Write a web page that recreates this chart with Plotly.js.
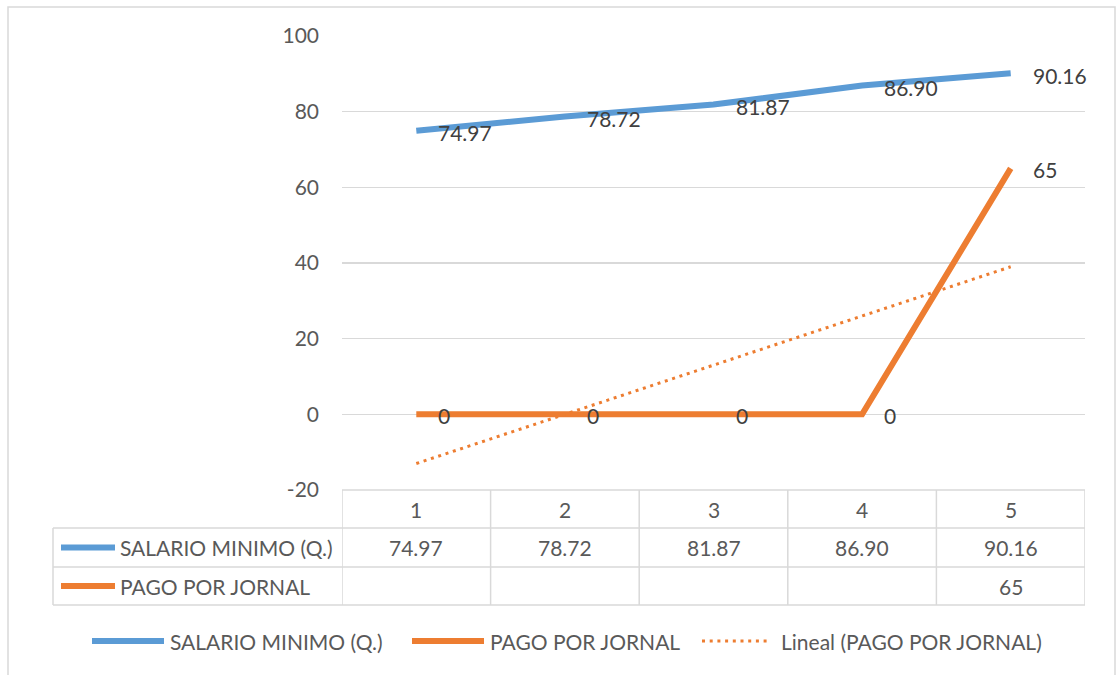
<!DOCTYPE html>
<html>
<head>
<meta charset="utf-8">
<script src="https://cdn.plot.ly/plotly-3.0.1.min.js"></script>
<style>
  html, body { margin: 0; padding: 0; background: #fff; }
  #chart { width: 1116px; height: 675px; }
</style>
</head>
<body>
<div id="chart"></div>
<script>
// ---- data ----
const categories = [1, 2, 3, 4, 5];
const salarioName = "SALARIO MINIMO (Q.)";
const salario = [74.97, 78.72, 81.87, 86.90, 90.16];
const pagoName = "PAGO POR JORNAL";
const pago = [null, null, null, null, 65];       // blanks in the table, drawn as 0
const trendName = "Lineal (PAGO POR JORNAL)";
const trendX = [1, 5];
const trendY = [-13, 39];
const yTicks = [-20, 0, 20, 40, 60, 80, 100];

// ---- styling ----
const BLUE = "#5B9BD5";
const ORANGE = "#ED7D31";
const GRID = "#d9d9d9";
const TXT = "#595959";
const LBL = "#404040";
const FONT = "Lato, 'Open Sans', sans-serif";
const FS = 21;

const W = 1116, H = 675;
const L = 342, R = 1085, T = 36, B = 490;
const X = px => (px - L) / (R - L);
const Y = py => (B - py) / (B - T);

const pagoPlot = pago.map(v => v == null ? 0 : v);

const traces = [
  { x: categories, y: salario, type: "scatter", mode: "lines", name: salarioName,
    line: { color: BLUE, width: 6 }, hoverinfo: "skip" },
  { x: categories, y: pagoPlot, type: "scatter", mode: "lines", name: pagoName,
    line: { color: ORANGE, width: 6 }, hoverinfo: "skip" },
  { x: trendX, y: trendY, type: "scatter", mode: "lines", name: trendName,
    line: { color: ORANGE, width: 3, dash: "3px,4.7px" }, hoverinfo: "skip" }
];

const shapes = [];
const annotations = [];

// outer chart border
shapes.push({ type: "rect", xref: "paper", yref: "paper", x0: X(8), x1: X(1115), y0: Y(690), y1: Y(7),
  line: { color: GRID, width: 1.5 }, fillcolor: "rgba(0,0,0,0)", layer: "below" });

// data labels
const fmt2 = v => v.toFixed(2);
categories.forEach((c, i) => {
  annotations.push({ x: c, y: salario[i], xref: "x", yref: "y", text: fmt2(salario[i]),
    showarrow: false, xanchor: "left", yanchor: "middle", xshift: 20, yshift: -2,
    font: { family: FONT, size: FS, color: LBL } });
  annotations.push({ x: c, y: pagoPlot[i], xref: "x", yref: "y", text: String(pagoPlot[i]),
    showarrow: false, xanchor: "left", yanchor: "middle", xshift: 20, yshift: -1,
    font: { family: FONT, size: FS, color: LBL } });
});

// data table
const rowY = [490, 528, 567, 605];
const lineSpec = { color: GRID, width: 1.5 };
shapes.push({ type: "line", xref: "paper", yref: "paper", x0: 0, x1: 1, y0: Y(rowY[0]), y1: Y(rowY[0]), line: lineSpec });
for (let r = 1; r < rowY.length; r++) {
  shapes.push({ type: "line", xref: "paper", yref: "paper", x0: X(53), x1: 1, y0: Y(rowY[r]), y1: Y(rowY[r]), line: lineSpec });
}
shapes.push({ type: "line", xref: "paper", yref: "paper", x0: X(53), x1: X(53), y0: Y(rowY[1]), y1: Y(rowY[3]), line: lineSpec });
[0.5].concat(categories.map(c => c + 0.5)).forEach(xb => {
  shapes.push({ type: "line", xref: "x", yref: "paper", x0: xb, x1: xb, y0: Y(rowY[0]), y1: Y(rowY[3]), line: lineSpec });
});
const rowMid = r => Y((rowY[r] + rowY[r + 1]) / 2);
categories.forEach((c, i) => {
  annotations.push({ x: c, y: rowMid(0), xref: "x", yref: "paper", text: String(c), showarrow: false,
    xanchor: "center", yanchor: "middle", font: { family: FONT, size: FS, color: TXT } });
  annotations.push({ x: c, y: rowMid(1), xref: "x", yref: "paper", text: fmt2(salario[i]), showarrow: false,
    xanchor: "center", yanchor: "middle", font: { family: FONT, size: FS, color: TXT } });
  if (pago[i] != null) {
    annotations.push({ x: c, y: rowMid(2), xref: "x", yref: "paper", text: String(pago[i]), showarrow: false,
      xanchor: "center", yanchor: "middle", font: { family: FONT, size: FS, color: TXT } });
  }
});
// table legend keys
[[salarioName, BLUE, 1], [pagoName, ORANGE, 2]].forEach(([name, col, r]) => {
  shapes.push({ type: "line", xref: "paper", yref: "paper", x0: X(61), x1: X(115), y0: rowMid(r), y1: rowMid(r),
    line: { color: col, width: 6 } });
  annotations.push({ x: X(118), y: rowMid(r), xref: "paper", yref: "paper", text: name, showarrow: false,
    xanchor: "left", yanchor: "middle", font: { family: FONT, size: FS, color: TXT } });
});

// bottom legend
const legY = Y(641);
const legendItems = [
  { name: salarioName, color: BLUE, x0: 92, x1: 164, tx: 168, dash: "solid", w: 6 },
  { name: pagoName, color: ORANGE, x0: 412, x1: 484, tx: 488, dash: "solid", w: 6 },
  { name: trendName, color: ORANGE, x0: 702, x1: 770, tx: 779, dash: "3px,4.7px", w: 3 }
];
legendItems.forEach(it => {
  shapes.push({ type: "line", xref: "paper", yref: "paper", x0: X(it.x0), x1: X(it.x1), y0: legY, y1: legY,
    line: { color: it.color, width: it.w, dash: it.dash } });
  annotations.push({ x: X(it.tx), y: legY, xref: "paper", yref: "paper", text: it.name, showarrow: false,
    xanchor: "left", yanchor: "middle", font: { family: FONT, size: FS, color: TXT } });
});

const layout = {
  width: W, height: H,
  margin: { l: L, r: W - R, t: T, b: H - B, pad: 0 },
  paper_bgcolor: "#fff", plot_bgcolor: "#fff",
  showlegend: false,
  font: { family: FONT, size: FS, color: TXT },
  xaxis: { range: [0.5, 5.5], showgrid: false, zeroline: false, showline: false,
    showticklabels: false, ticks: "", fixedrange: true },
  yaxis: { range: [-20, 100], tickvals: yTicks, ticktext: yTicks.map(String), showgrid: true,
    gridcolor: GRID, gridwidth: 1.5, zeroline: false, showline: false, ticks: "",
    ticklabelstandoff: 22, tickfont: { family: FONT, size: FS, color: TXT }, fixedrange: true },
  shapes: shapes,
  annotations: annotations
};

Plotly.newPlot("chart", traces, layout, { displayModeBar: false, staticPlot: true });
</script>
</body>
</html>
